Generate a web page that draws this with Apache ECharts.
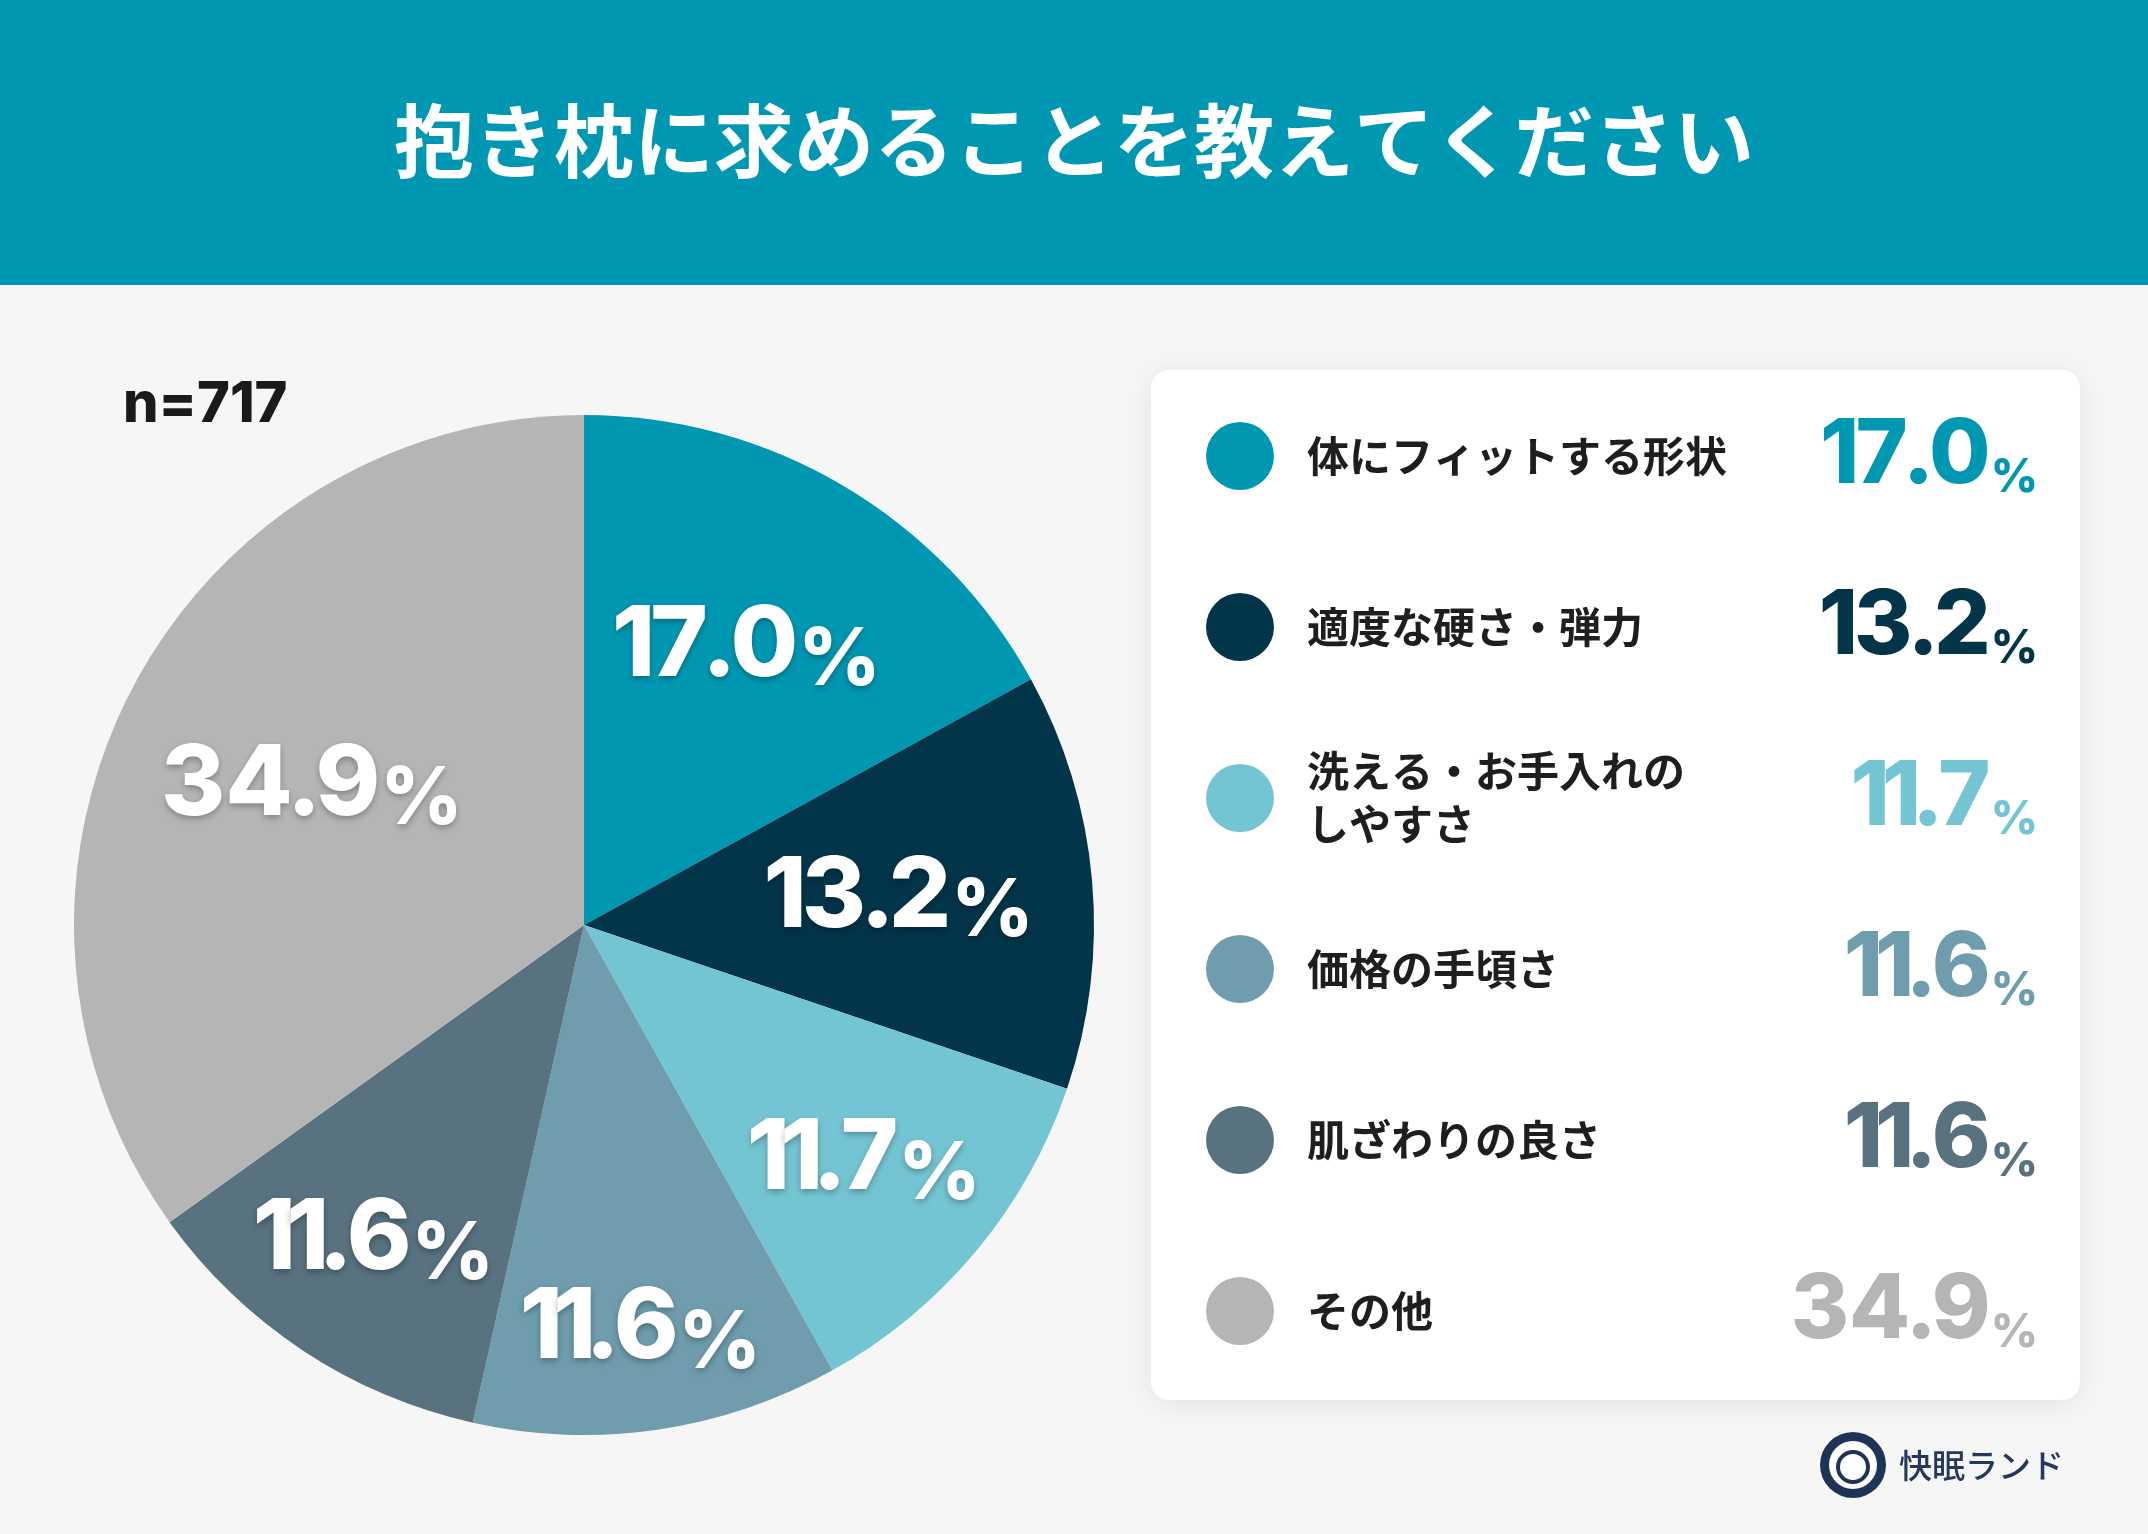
<!DOCTYPE html>
<html><head><meta charset="utf-8">
<script src="https://cdn.jsdelivr.net/npm/echarts@6/dist/echarts.min.js"></script>
<style>html,body{margin:0;padding:0;background:#f6f6f6}#c{width:2148px;height:1534px}</style>
</head><body><div id="c"></div><script>
// ---- data ----
const categories = ['体にフィットする形状', '適度な硬さ・弾力', '洗える・お手入れの\nしやすさ', '価格の手頃さ', '肌ざわりの良さ', 'その他'];
const values = [17.0, 13.2, 11.7, 11.6, 11.6, 34.9];
const sampleLabel = 'n=717';
const titleText = '抱き枕に求めることを教えてください';
const brandText = '快眠ランド';

// ---- style / layout ----
const colors = ['#0097B2', '#03354A', '#74C5D3', '#6F9DAE', '#587280', '#B5B5B5'];
const labelRadiusRatio = [0.635, 0.624, 0.72, 0.80, 0.74, 0.60];
const R = 510, CX = 584, CY = 925;
const JP = '"Noto Sans CJK JP", "Noto Sans", sans-serif';
const NUM = 'Inter, Roboto, sans-serif';

const chart = echarts.init(document.getElementById('c'), null, {renderer: 'canvas'});

// split a number string into per-character rich tokens (narrow "1" and ".")
function numTokens(str, prefix) {
  return str.split('').map(ch => '{' + prefix + (ch === '1' ? 'o' : ch === '.' ? 't' : 'd') + '|' + ch + '}').join('');
}

const shadow = {textShadowColor: 'rgba(0,0,0,0.28)', textShadowBlur: 6, textShadowOffsetY: 3};
const pieBase = {fontSize: 98, fontWeight: 800, fontFamily: NUM, color: '#fff', lineHeight: 110};

const series = [{
  type: 'pie', center: [CX, CY], radius: [0, R], startAngle: 90, clockwise: true,
  avoidLabelOverlap: false, silent: true, animation: false,
  label: {show: false}, labelLine: {show: false},
  itemStyle: {borderWidth: 0},
  data: values.map((v, i) => ({value: v, name: categories[i], itemStyle: {color: colors[i]}}))
}];
labelRadiusRatio.forEach((k, i) => {
  const r0 = 2 * k * R - R - 6;
  series.push({
    type: 'pie', center: [CX, CY], radius: [r0, R], startAngle: 90, clockwise: true,
    avoidLabelOverlap: false, silent: true, animation: false, z: 3,
    itemStyle: {color: 'rgba(0,0,0,0)', borderWidth: 0},
    labelLine: {show: false},
    label: {
      show: false, position: 'inside',
      formatter: p => numTokens(p.value.toFixed(1), 'n') + '{p|%}',
      rich: {
        nd: Object.assign({}, pieBase, shadow),
        no: Object.assign({}, pieBase, shadow, {padding: [0, -5, 0, -5]}),
        nt: Object.assign({}, pieBase, shadow, {padding: [0, -6, 0, -6]}),
        p: Object.assign({fontSize: 80, fontWeight: 800, fontFamily: NUM, color: '#fff', lineHeight: 100, verticalAlign: 'bottom'}, shadow)
      }
    },
    data: values.map((v, j) => ({value: v, name: categories[j], label: {show: j === i}}))
  });
});

const valueRich = {};
colors.forEach((c, i) => {
  const base = {fontSize: 89, fontWeight: 800, fontFamily: NUM, color: c, lineHeight: 90};
  valueRich['v' + i + 'd'] = Object.assign({}, base);
  valueRich['v' + i + 'o'] = Object.assign({}, base, {padding: [0, -4, 0, -4]});
  valueRich['v' + i + 't'] = Object.assign({}, base, {padding: [0, -5, 0, -5]});
  valueRich['p' + i] = {fontSize: 46, fontWeight: 800, fontFamily: NUM, color: c, lineHeight: 76, verticalAlign: 'bottom'};
});

const legendCommon = {orient: 'vertical', padding: 0, selectedMode: false};

chart.setOption({
  backgroundColor: '#f6f6f6',
  animation: false,
  graphic: [
    {type: 'rect', shape: {x: 0, y: 0, width: 2148, height: 285}, style: {fill: '#0097B2'}, z: -10},
    {type: 'text', x: 1074, y: 141, style: {text: titleText, fill: '#fff', font: 'bold 80px ' + JP, textAlign: 'center', textVerticalAlign: 'middle'}, z: 5},
    {type: 'text', x: 123, y: 405, style: {text: sampleLabel, fill: '#1a1a1a', font: '800 56px ' + NUM, textAlign: 'left', textVerticalAlign: 'middle'}, z: 5},
    {type: 'rect', shape: {x: 1151, y: 370, width: 929, height: 1030, r: 18}, style: {fill: '#ffffff', shadowBlur: 30, shadowColor: 'rgba(0,0,0,0.08)', shadowOffsetY: 4}, z: -5},
    {type: 'circle', shape: {cx: 1853, cy: 1465, r: 33}, style: {fill: '#1e3457'}, z: 5},
    {type: 'circle', shape: {cx: 1853, cy: 1465, r: 24}, style: {fill: '#ffffff'}, z: 6},
    {type: 'circle', shape: {cx: 1853, cy: 1467, r: 15}, style: {fill: 'none', stroke: '#1e3457', lineWidth: 4}, z: 7},
    {type: 'text', x: 1899, y: 1465, style: {text: brandText, fill: '#24395c', font: '500 33px ' + JP, textAlign: 'left', textVerticalAlign: 'middle'}, z: 5}
  ],
  legend: [
    // colour dots
    Object.assign({}, legendCommon, {
      left: 1206, top: 422, itemGap: 103, itemWidth: 68, itemHeight: 68, icon: 'circle',
      data: categories.map((c, i) => ({name: c, itemStyle: {color: colors[i]}})),
      formatter: () => '', textStyle: {fontSize: 1}
    }),
    // category names
    Object.assign({}, legendCommon, {
      left: 1301, top: 403, itemGap: 65, itemWidth: 1, itemHeight: 106, icon: 'rect',
      data: categories.map(c => ({name: c, itemStyle: {color: 'rgba(0,0,0,0)'}})),
      formatter: name => name.split('\n').map(s => '{m|' + s + '}').join('\n'),
      textStyle: {rich: {m: {fontSize: 42, lineHeight: 53, fontWeight: 'bold', color: '#1e1e1e', fontFamily: JP}}}
    }),
    // values
    Object.assign({}, legendCommon, {
      right: 104, top: 403, itemGap: 65, itemWidth: 1, itemHeight: 106, icon: 'rect', align: 'right',
      data: categories.map(c => ({name: c, itemStyle: {color: 'rgba(0,0,0,0)'}})),
      formatter: name => {
        const i = categories.indexOf(name);
        return numTokens(values[i].toFixed(1), 'v' + i) + '{p' + i + '|%}';
      },
      textStyle: {rich: valueRich}
    })
  ],
  series: series
});
</script></body></html>
